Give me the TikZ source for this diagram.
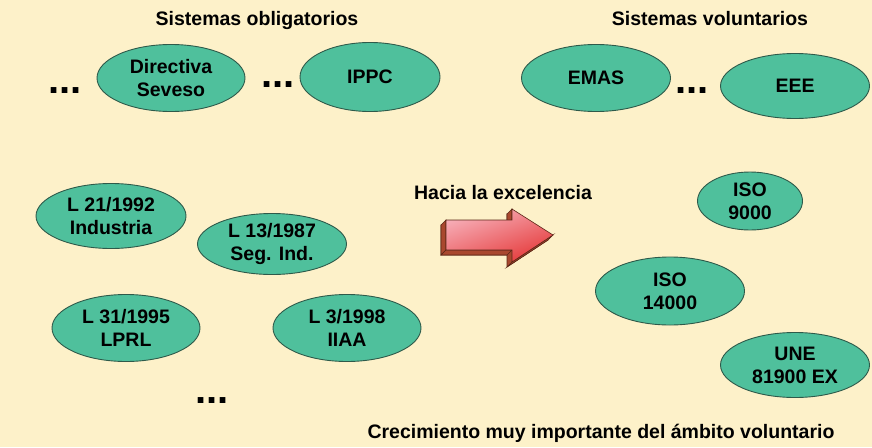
\documentclass[tikz,border=0pt]{standalone}
\usepackage{fontspec}
\setmainfont{Liberation Sans}
\usetikzlibrary{shapes.geometric}
\definecolor{bgyellow}{HTML}{FDF1C9}
\definecolor{tealfill}{HTML}{4FC09C}
\definecolor{tealline}{HTML}{2E5A4A}
\definecolor{arrowdark}{HTML}{A9482E}
\definecolor{arrowline}{HTML}{5A2616}
\definecolor{arrowpink}{HTML}{F7B0BA}
\definecolor{arrowred}{HTML}{E53A3A}
\tikzset{
  elli/.style={ellipse, draw=tealline, line width=0.9pt, fill=tealfill, inner sep=0pt,
    align=center, font=\fontsize{19.5}{23}\selectfont\bfseries},
  lbl/.style={inner sep=0pt, font=\fontsize{19.5}{23}\selectfont\bfseries},
  dotsnode/.style={inner sep=0pt, anchor=base, font=\fontsize{40}{40}\selectfont\bfseries}
}
\begin{document}
\begin{tikzpicture}[x=1pt,y=-1pt]
\fill[bgyellow] (0,0) rectangle (872,447);
\useasboundingbox (0,0) rectangle (872,447);

% titles
\node[lbl, anchor=base] (tobl) at (257,25) {Sistemas obligatorios};
\node[lbl, anchor=base] (tvol) at (710,25) {Sistemas voluntarios};

% top row
\node[elli, minimum width=148, minimum height=67] (sev) at (171,78) {Directiva\\Seveso};
\node[elli, minimum width=140, minimum height=69] (ippc) at (370,77) {IPPC};
\node[elli, minimum width=149, minimum height=67] (emas) at (596,78) {EMAS};
\node[elli, minimum width=149, minimum height=65] (eee) at (795,86) {EEE};

\node[dotsnode] (d1) at (65,93) {...};
\node[dotsnode] (d2) at (278,87) {...};
\node[dotsnode] (d3) at (692,93) {...};
\node[dotsnode] (d4) at (212,403) {...};

% left group
\node[elli, minimum width=150, minimum height=65] (l21) at (111,216) {L 21/1992\\Industria};
\node[elli, minimum width=149, minimum height=61] (l13) at (272,244) {L 13/1987\\Seg. Ind.};
\node[elli, minimum width=148, minimum height=67] (l31) at (126,328) {L 31/1995\\LPRL};
\node[elli, minimum width=148, minimum height=67] (l3) at (347,328) {L 3/1998\\IIAA};

% right group
\node[elli, minimum width=105, minimum height=58] (iso9) at (750,201) {ISO\\9000};
\node[elli, minimum width=149, minimum height=68] (iso14) at (670,291) {ISO\\14000};
\node[elli, minimum width=149, minimum height=65] (une) at (795,365) {UNE\\81900 EX};

% arrow label
\node[lbl, anchor=base] (hacia) at (503,199) {Hacia la excelencia};

% 3D arrow: extrusion
\begin{scope}[shift={(-5,5)}]
\filldraw[fill=arrowdark, draw=arrowline, line width=0.6pt]
  (446,220) -- (512,220) -- (512,209) -- (553,235) -- (512,262) -- (512,250) -- (446,250) -- cycle;
\end{scope}
\filldraw[fill=arrowdark, draw=arrowline, line width=0.6pt]
  (446,220) -- (441,225) -- (441,255) -- (446,250) -- cycle;
\filldraw[fill=arrowdark, draw=arrowline, line width=0.6pt]
  (446,250) -- (441,255) -- (507,255) -- (512,250) -- cycle;
\filldraw[fill=arrowdark, draw=arrowline, line width=0.6pt]
  (512,209) -- (507,214) -- (507,225) -- (512,220) -- cycle;
\filldraw[fill=arrowdark, draw=arrowline, line width=0.6pt]
  (512,262) -- (507,267) -- (548,240) -- (553,235) -- cycle;
% front face
\shade[top color=arrowpink, bottom color=arrowred, shading angle=20]
  (446,220) -- (512,220) -- (512,209) -- (553,235) -- (512,262) -- (512,250) -- (446,250) -- cycle;
\draw[arrowline, line width=0.6pt, line join=miter]
  (446,220) -- (512,220) -- (512,209) -- (553,235) -- (512,262) -- (512,250) -- (446,250) -- cycle;

% bottom text
\node[lbl, anchor=base] (crec) at (601,438) {Crecimiento muy importante del ámbito voluntario};
\end{tikzpicture}
\end{document}
